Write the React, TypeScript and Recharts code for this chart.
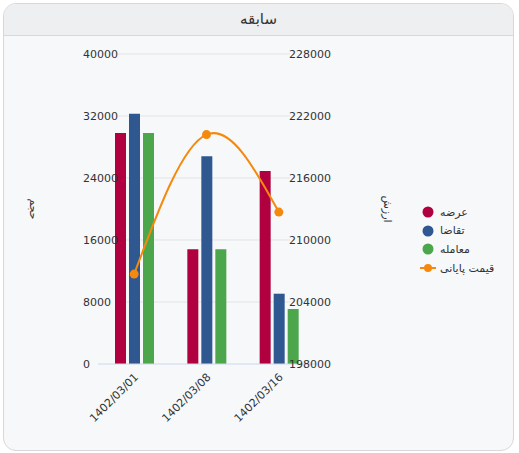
import React from 'react';
import { ComposedChart, Bar, Line, XAxis, YAxis, CartesianGrid } from 'recharts';

const categories = ['1402/03/01', '1402/03/08', '1402/03/16'];
const supplyValues = [29800, 14800, 24900];
const demandValues = [32300, 26800, 9070];
const tradeValues = [29800, 14800, 7100];
const closePriceValues = [206700, 220200, 212700];
const volumeTicks = [0, 8000, 16000, 24000, 32000, 40000];
const valueTicks = [198000, 204000, 210000, 216000, 222000, 228000];
const seriesNames = ['عرضه', 'تقاضا', 'معامله', 'قیمت پایانی'];
const seriesColors = ['#B0003F', '#2F5790', '#4CA64C', '#F5890E'];
const titleText = 'سابقه';
const leftAxisTitle = 'حجم';
const rightAxisTitle = 'ارزش';

const data = categories.map((c, i) => ({
  date: c,
  supply: supplyValues[i],
  demand: demandValues[i],
  trade: tradeValues[i],
  close: closePriceValues[i],
}));

const FONT = '"DejaVu Sans", sans-serif';

const LeftTick = (props: any) => {
  const { y, payload } = props;
  return (
    <text x={83} y={y} dy={4} textAnchor="start" fontSize={11} fill="#333" fontFamily={FONT}>
      {payload.value}
    </text>
  );
};

const RightTick = (props: any) => {
  const { y, payload } = props;
  return (
    <text x={289} y={y} dy={4} textAnchor="start" fontSize={11} fill="#333" fontFamily={FONT}>
      {payload.value}
    </text>
  );
};

const XTick = (props: any) => {
  const { x, y, payload } = props;
  return (
    <g transform={`translate(${x + 2},${y + 3})`}>
      <text x={0} y={0} dy={4} textAnchor="end" transform="rotate(-45)" fontSize={11} fill="#333" fontFamily={FONT}>
        {payload.value}
      </text>
    </g>
  );
};

const GridLine = (props: any) => {
  const { x1, x2, y1, y2, key } = props;
  if (Math.abs(y1 - 364) < 2) return <g key={key} />;
  return <line key={key} x1={x1 + 20} x2={x2 - 25} y1={y1} y2={y2} stroke="#e3e3e3" strokeWidth={1} />;
};

export default function App() {
  return (
    <div style={{ position: 'absolute', left: 0, top: 0, width: 519, height: 453, background: '#fff', fontFamily: FONT }}>
      <div
        style={{
          position: 'absolute',
          left: 3,
          top: 3,
          width: 509,
          height: 446,
          border: '1px solid #d8d8d8',
          borderRadius: 13,
          background: '#f7f8fa',
          overflow: 'hidden',
        }}
      >
        <div
          style={{
            height: 31,
            background: '#eeeff1',
            borderBottom: '1px solid #d8d8d8',
            textAlign: 'center',
            lineHeight: '31px',
            fontSize: 15,
            color: '#333',
            fontFamily: FONT,
          }}
        >
          {titleText}
        </div>
      </div>
      <div style={{ position: 'absolute', left: 0, top: 0 }}>
        <ComposedChart
          width={519}
          height={453}
          data={data}
          margin={{ top: 54, right: 0, bottom: 0, left: 0 }}
          barSize={11}
          barGap={3}
        >
          <CartesianGrid vertical={false} horizontal={GridLine as any} yAxisId="left" />
          <XAxis
            dataKey="date"
            height={89}
            tickLine={false}
            axisLine={{ stroke: '#ccd6eb' }}
            tick={<XTick />}
            interval={0}
          />
          <YAxis
            yAxisId="left"
            orientation="left"
            width={98}
            domain={[0, 40000]}
            ticks={volumeTicks}
            tickLine={false}
            axisLine={false}
            tick={<LeftTick />}
            label={{
              value: leftAxisTitle,
              position: 'insideLeft',
              content: (p: any) => {
                const vb = p.viewBox;
                const cy = vb.y + vb.height / 2;
                return (
                  <text x={33} y={cy} textAnchor="middle" dominantBaseline="central" transform={`rotate(90, 33, ${cy})`} fontSize={11} fill="#333" fontFamily={FONT}>
                    {leftAxisTitle}
                  </text>
                );
              },
            }}
          />
          <YAxis
            yAxisId="right"
            orientation="right"
            width={204}
            domain={[198000, 228000]}
            ticks={valueTicks}
            tickLine={false}
            axisLine={false}
            tick={<RightTick />}
            label={{
              value: rightAxisTitle,
              position: 'insideRight',
              content: (p: any) => {
                const vb = p.viewBox;
                const cy = vb.y + vb.height / 2;
                return (
                  <text x={387} y={cy} textAnchor="middle" dominantBaseline="central" transform={`rotate(90, 387, ${cy})`} fontSize={11} fill="#333" fontFamily={FONT}>
                    {rightAxisTitle}
                  </text>
                );
              },
            }}
          />
          <Bar yAxisId="left" dataKey="supply" name={seriesNames[0]} fill={seriesColors[0]} isAnimationActive={false} />
          <Bar yAxisId="left" dataKey="demand" name={seriesNames[1]} fill={seriesColors[1]} isAnimationActive={false} />
          <Bar yAxisId="left" dataKey="trade" name={seriesNames[2]} fill={seriesColors[2]} isAnimationActive={false} />
          <Line
            yAxisId="right"
            type="natural"
            dataKey="close"
            name={seriesNames[3]}
            stroke={seriesColors[3]}
            strokeWidth={2}
            dot={{ r: 4.5, fill: seriesColors[3], stroke: 'none' }}
            activeDot={false}
            isAnimationActive={false}
          />
        </ComposedChart>
      </div>
      <div style={{ position: 'absolute', left: 418, top: 203 }}>
        {seriesNames.map((name, i) => (
          <div key={name} style={{ display: 'flex', alignItems: 'center', height: 18.6 }}>
            <svg width={20} height={14} style={{ marginRight: 2 }}>
              {i < 3 ? (
                <circle cx={10} cy={7} r={5.5} fill={seriesColors[i]} />
              ) : (
                <g>
                  <line x1={2} x2={18} y1={7} y2={7} stroke={seriesColors[i]} strokeWidth={2} />
                  <circle cx={10} cy={7} r={4} fill={seriesColors[i]} />
                </g>
              )}
            </svg>
            <span style={{ fontSize: 11, color: '#333', fontFamily: FONT, whiteSpace: 'nowrap' }}>{name}</span>
          </div>
        ))}
      </div>
    </div>
  );
}
